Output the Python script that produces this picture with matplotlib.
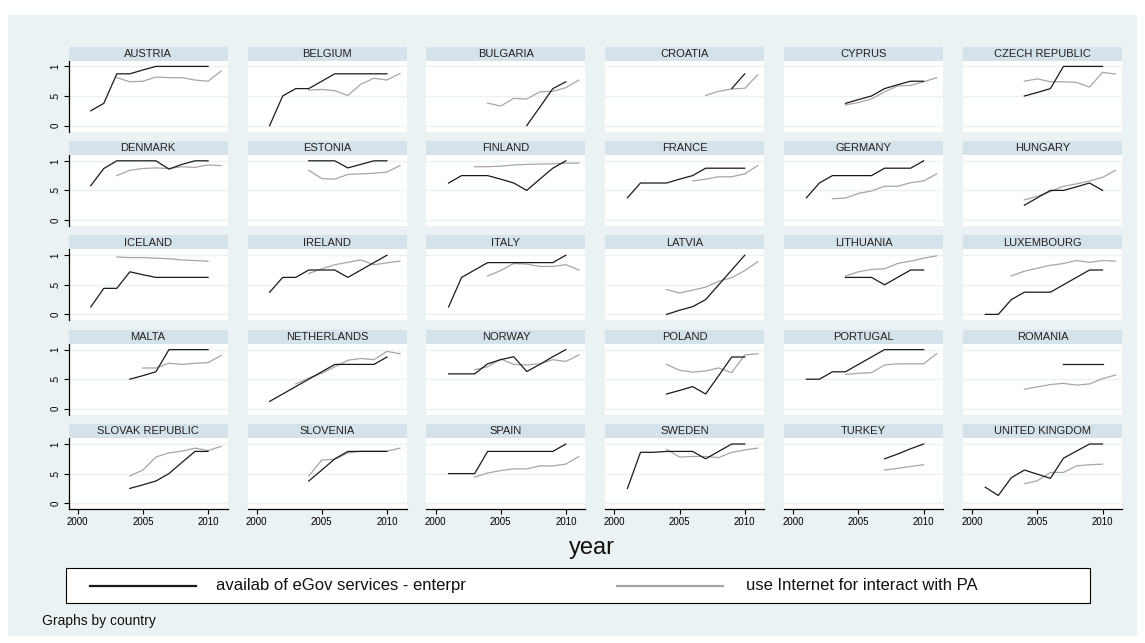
import numpy as np
import matplotlib
matplotlib.use("Agg")
import matplotlib.pyplot as plt
from matplotlib.patches import Rectangle
from matplotlib.lines import Line2D

plt.rcParams['font.family'] = ['Liberation Sans', 'DejaVu Sans']

n = np.nan
years = [2001, 2002, 2003, 2004, 2005, 2006, 2007, 2008, 2009, 2010, 2011]

countries = [
    "AUSTRIA", "BELGIUM", "BULGARIA", "CROATIA", "CYPRUS", "CZECH REPUBLIC",
    "DENMARK", "ESTONIA", "FINLAND", "FRANCE", "GERMANY", "HUNGARY",
    "ICELAND", "IRELAND", "ITALY", "LATVIA", "LITHUANIA", "LUXEMBOURG",
    "MALTA", "NETHERLANDS", "NORWAY", "POLAND", "PORTUGAL", "ROMANIA",
    "SLOVAK REPUBLIC", "SLOVENIA", "SPAIN", "SWEDEN", "TURKEY", "UNITED KINGDOM",
]

# availability of eGov services for enterprises, 2001-2011
availab_egov = [
    [.25, .375, .875, .875, .94, 1, 1, 1, 1, 1, n],
    [0, .5, .625, .625, .75, .875, .875, .875, .875, .875, n],
    [n, n, n, n, n, n, 0, .31, .625, .74, n],
    [n, n, n, n, n, n, n, n, .625, .875, n],
    [n, n, n, .375, .44, .5, .625, .69, .75, .75, n],
    [n, n, n, .5, .56, .625, 1, 1, 1, 1, n],
    [.58, .87, 1, 1, 1, 1, .86, .94, 1, 1, n],
    [n, n, n, 1, 1, 1, .88, .94, 1, 1, n],
    [.625, .75, .75, .75, .69, .625, .5, .69, .875, 1, n],
    [.375, .625, .625, .625, .69, .75, .875, .875, .875, .875, n],
    [.375, .625, .75, .75, .75, .75, .875, .875, .875, 1, n],
    [n, n, n, .25, .375, .5, .5, .56, .625, .5, n],
    [.125, .44, .44, .72, .67, .625, .625, .625, .625, .625, n],
    [.375, .625, .625, .75, .75, .75, .625, .75, .875, 1, n],
    [.125, .625, .75, .875, .875, .875, .875, .875, .875, 1, n],
    [n, n, n, 0, .07, .13, .25, .5, .75, 1, n],
    [n, n, n, .625, .625, .625, .5, .625, .75, .75, n],
    [0, 0, .25, .375, .375, .375, .5, .625, .75, .75, n],
    [n, n, n, .5, .56, .625, 1, 1, 1, 1, n],
    [.125, .25, .375, .5, .625, .75, .75, .75, .75, .875, n],
    [.59, .59, .59, .76, .83, .88, .63, .75, .88, 1, n],
    [n, n, n, .25, .31, .375, .25, .56, .875, .875, n],
    [.5, .5, .625, .625, .75, .875, 1, 1, 1, 1, n],
    [n, n, n, n, n, n, .75, .75, .75, .75, n],
    [n, n, n, .25, .31, .375, .5, .69, .875, .875, n],
    [n, n, n, .375, .56, .75, .875, .875, .875, .875, n],
    [.5, .5, .5, .875, .875, .875, .875, .875, .875, 1, n],
    [.25, .86, .86, .875, .875, .875, .75, .875, 1, 1, n],
    [n, n, n, n, n, n, .75, .83, .92, 1, n],
    [.27, .13, .43, .56, .49, .42, .76, .88, 1, 1, n],
]

# share using the Internet to interact with public authorities, 2001-2011
use_internet_pa = [
    [n, n, .81, .74, .75, .82, .81, .81, .77, .75, .92],
    [n, n, n, .6, .61, .59, .51, .70, .80, .77, .88],
    [n, n, n, .38, .33, .46, .45, .57, .58, .64, .77],
    [n, n, n, n, n, n, .51, .58, .62, .63, .86],
    [n, n, n, .35, .39, .45, .57, .67, .68, .74, .81],
    [n, n, n, .75, .79, .74, .74, .73, .65, .9, .87],
    [n, n, .75, .84, .87, .88, .87, .90, .89, .93, .92],
    [n, n, n, .84, .70, .69, .77, .78, .79, .81, .92],
    [n, n, .9, .9, .91, .93, .94, .945, .95, .96, .96],
    [n, n, n, n, n, .66, .69, .73, .73, .78, .92],
    [n, n, .36, .37, .45, .49, .57, .57, .63, .66, .78],
    [n, n, n, .34, .40, .48, .57, .61, .66, .72, .84],
    [n, n, .97, .96, .96, .95, .94, .92, .91, .90, n],
    [n, n, n, .69, .77, .84, .88, .92, .84, .87, .9],
    [n, n, n, .65, .74, .86, .85, .81, .81, .84, .75],
    [n, n, n, .42, .36, .41, .46, .56, .62, .74, .89],
    [n, n, n, .65, .72, .76, .77, .86, .9, .95, .99],
    [n, n, .65, .73, .78, .83, .86, .91, .88, .91, .9],
    [n, n, n, n, .69, .69, .77, .75, .77, .78, .9],
    [n, n, .42, .52, .6, .71, .82, .85, .83, .97, .93],
    [n, n, .66, .71, .84, .75, .74, .76, .83, .8, .91],
    [n, n, n, .75, .65, .62, .64, .69, .61, .91, .93],
    [n, n, n, .58, .6, .61, .74, .76, .76, .76, .93],
    [n, n, n, .33, .37, .41, .43, .4, .42, .51, .57],
    [n, n, n, .46, .56, .78, .85, .88, .93, .89, .96],
    [n, n, n, .46, .73, .74, .85, .88, .88, .88, .93],
    [n, n, .44, .51, .55, .58, .58, .63, .63, .66, .79],
    [n, n, n, .91, .78, .79, .79, .77, .86, .9, .93],
    [n, n, n, n, n, n, .56, .59, .62, .65, n],
    [n, n, n, .33, .38, .52, .52, .63, .65, .66, n],
]

series_labels = ["availab of eGov services - enterpr", "use Internet for interact with PA"]
x_ticks = [2000, 2005, 2010]
y_ticks = [0, .5, 1]
y_ticklabels = ["0", ".5", "1"]

BG = "#EAF2F3"
STRIP = "#D5E2E9"
GRID = "#EAF2F3"
DARK = "#1a1a1a"
LIGHT = "#a6a6a6"

W, H = 1145, 643
fig = plt.figure(figsize=(W / 100, H / 100), dpi=100)
fig.patch.set_facecolor("white")


def fx(px):
    return px / W


def fy(py):
    return 1 - py / H


# graph region
fig.add_artist(Rectangle((fx(8), fy(636)), fx(1137) - fx(8), fy(15) - fy(636),
                         transform=fig.transFigure, facecolor=BG,
                         edgecolor="none", zorder=0))

ncols, nrows = 6, 5
col_left0, col_step, panel_w = 68.6, 178.9, 159.0
row_top0, row_step = 46.7, 94.4
strip_h, plot_h = 13.8, 71.0

yrs = np.array(years, dtype=float)
for i, name in enumerate(countries):
    r, c = divmod(i, ncols)
    left = col_left0 + c * col_step
    top = row_top0 + r * row_step

    # title strip
    fig.add_artist(Rectangle((fx(left), fy(top + strip_h)), fx(panel_w),
                             fy(top) - fy(top + strip_h),
                             transform=fig.transFigure, facecolor=STRIP,
                             edgecolor="none", zorder=1))
    fig.text(fx(left + panel_w / 2), fy(top + strip_h / 2 + 0.3), name,
             ha="center", va="center", fontsize=8, color="#222222", zorder=2)

    ax = fig.add_axes([fx(left), fy(top + strip_h + plot_h), fx(panel_w),
                       fy(top + strip_h) - fy(top + strip_h + plot_h)])
    ax.set_facecolor("white")
    ax.set_xlim(1999.3, 2011.5)
    ax.set_ylim(-0.1, 1.1)
    for yv in y_ticks:
        ax.axhline(yv, color=GRID, lw=1.0, zorder=0)

    a = np.array(availab_egov[i], dtype=float)
    u = np.array(use_internet_pa[i], dtype=float)
    ma, mu = ~np.isnan(a), ~np.isnan(u)
    ax.plot(yrs[mu], u[mu], color=LIGHT, lw=0.9, zorder=2)
    ax.plot(yrs[ma], a[ma], color=DARK, lw=0.9, zorder=3)

    for s in ax.spines.values():
        s.set_visible(False)
    ax.set_xticks(x_ticks)
    ax.set_yticks(y_ticks)
    if c == 0:
        ax.spines["left"].set_visible(True)
        ax.spines["left"].set_linewidth(0.9)
        ax.set_yticklabels(y_ticklabels, rotation=90, va="center", fontsize=7)
        ax.tick_params(axis="y", length=3.5, width=0.8, pad=2.5, color="black")
    else:
        ax.tick_params(axis="y", left=False, labelleft=False)
    if r == nrows - 1:
        ax.spines["bottom"].set_visible(True)
        ax.spines["bottom"].set_linewidth(0.9)
        ax.set_xticklabels([str(t) for t in x_ticks], fontsize=7)
        ax.tick_params(axis="x", length=3.5, width=0.8, pad=2.5, color="black")
    else:
        ax.tick_params(axis="x", bottom=False, labelbottom=False)

# x-axis title
fig.text(fx(592), fy(548), "year", ha="center", va="center", fontsize=17,
         color="#111111")

# legend box
fig.add_artist(Rectangle((fx(66), fy(603)), fx(1090) - fx(66), fy(568) - fy(603),
                         transform=fig.transFigure, facecolor="white",
                         edgecolor="black", lw=0.8, zorder=1))
ly = fy(585.5)
fig.add_artist(Line2D([fx(90), fx(196)], [ly, ly], transform=fig.transFigure,
                      color=DARK, lw=1.6, zorder=2))
fig.text(fx(216), ly, series_labels[0], ha="left", va="center", fontsize=12,
         color="#111111")
fig.add_artist(Line2D([fx(617), fx(723)], [ly, ly], transform=fig.transFigure,
                      color=LIGHT, lw=1.6, zorder=2))
fig.text(fx(746), ly, series_labels[1], ha="left", va="center", fontsize=12,
         color="#111111")

fig.text(fx(42), fy(621), "Graphs by country", ha="left", va="center",
         fontsize=10, color="#111111")

fig.savefig("out.png", dpi=100, facecolor="white")
